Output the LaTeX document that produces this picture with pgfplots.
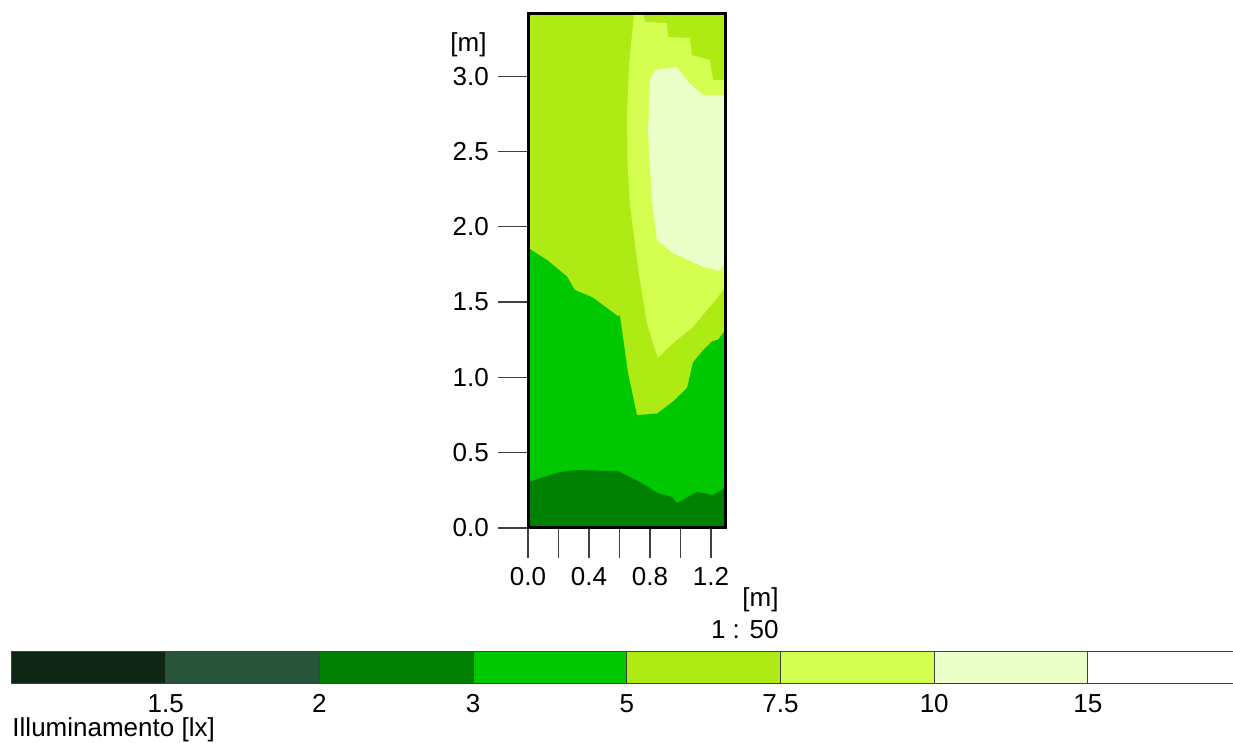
\documentclass[border=0pt]{standalone}
\usepackage{pgfplots}
\pgfplotsset{compat=1.18}
\usepackage{fontspec}
\setmainfont{Liberation Sans}
\definecolor{c0}{RGB}{15,38,23}
\definecolor{c1}{RGB}{40,85,58}
\definecolor{c2}{RGB}{0,128,0}
\definecolor{c3}{RGB}{0,200,0}
\definecolor{c4}{RGB}{174,235,20}
\definecolor{c5}{RGB}{212,255,80}
\definecolor{c6}{RGB}{235,255,200}
\newcommand{\lblfont}{\fontsize{10.4pt}{12pt}\selectfont}
\begin{document}
\lblfont
\begin{tikzpicture}
\useasboundingbox (0,0) rectangle (493.2pt,297.2pt);
\begin{axis}[
  at={(211.2pt,86pt)}, anchor=south west, scale only axis,
  width=78.8pt, height=205.6pt,
  xmin=0, xmax=1.292, ymin=0, ymax=3.413,
  axis line style={line width=1.2pt, black},
  axis on top,
  tick align=outside, major tick length=12pt,
  tick style={black!75, line width=0.5pt},
  xtick pos=bottom, ytick pos=left,
  xtick={0,0.2,0.4,0.6,0.8,1.0,1.2},
  xticklabels={0.0,,0.4,,0.8,,1.2},
  ytick={0,0.5,1.0,1.5,2.0,2.5,3.0},
  yticklabels={0.0,0.5,1.0,1.5,2.0,2.5,3.0},
  every tick label/.append style={font=\lblfont},
  clip=true,
]
% 5 - 7.5 background
\addplot[fill=c4, draw=none] coordinates {(0,0) (1.292,0) (1.292,3.413) (0,3.413)} -- cycle;
% 3 - 5
\addplot[fill=c3, draw=none] coordinates {
 (0,0) (1.292,0) (1.292,1.31) (1.246,1.25) (1.207,1.24) (1.148,1.18) (1.082,1.10)
 (1.043,0.93) (0.951,0.84) (0.846,0.76) (0.715,0.75) (0.656,1.03) (0.603,1.41)
 (0.584,1.41) (0.426,1.53) (0.308,1.58) (0.256,1.67) (0.125,1.78) (0,1.86)} -- cycle;
% 2 - 3
\addplot[fill=c2, draw=none] coordinates {
 (0,0) (1.292,0) (1.292,0.266) (1.213,0.219) (1.108,0.239) (0.977,0.166)
 (0.944,0.206) (0.852,0.232) (0.734,0.305) (0.59,0.378) (0.32,0.385) (0.21,0.372) (0,0.305)} -- cycle;
% 7.5 - 10
\addplot[fill=c5, draw=none] coordinates {
 (0.695,3.413) (0.754,3.413) (0.767,3.36) (0.911,3.353) (0.918,3.26) (1.062,3.254)
 (1.075,3.14) (1.193,3.108) (1.213,2.975) (1.292,2.975) (1.292,1.594) (1.239,1.527)
 (1.174,1.448) (1.082,1.335) (0.951,1.228) (0.852,1.129) (0.82,1.228) (0.78,1.361)
 (0.734,1.647) (0.715,1.78) (0.668,2.15) (0.652,2.45) (0.650,2.75) (0.662,3.061)} -- cycle;
% 10 - 15
\addplot[fill=c6, draw=none] coordinates {
 (0.833,3.041) (0.977,3.061) (1.062,2.95) (1.095,2.922) (1.148,2.875) (1.292,2.875)
 (1.292,1.766) (1.259,1.707) (1.148,1.733) (0.951,1.826) (0.846,1.912) (0.813,2.178)
 (0.787,2.623) (0.80,2.975)} -- cycle;
\end{axis}
\node[anchor=east, inner sep=0pt] at (194.8pt,279.2pt) {[m]};
\node[anchor=east, inner sep=0pt] at (311.6pt,57.2pt) {[m]};
\node[anchor=east, inner sep=0pt] at (311.6pt,45.2pt) {1 : 50};
% colour scale
\begin{axis}[
  at={(4.8pt,23.6pt)}, anchor=south west, scale only axis,
  width=488.4pt, height=12.8pt,
  xmin=0, xmax=7.944, ymin=0, ymax=1,
  axis line style={draw=none},
  clip=false,
  major tick length=0pt,
  xtick={1,2,3,4,5,6,7},
  xticklabels={1.5,2,3,5,7.5,10,15},
  ytick=\empty,
  xtick pos=bottom,
  every tick label/.append style={font=\lblfont},
  xticklabel style={yshift=-0.5pt},
]
\addplot[fill=c0, draw=black!75, line width=0.4pt] coordinates {(0,0) (1,0) (1,1) (0,1)} -- cycle;
\addplot[fill=c1, draw=black!75, line width=0.4pt] coordinates {(1,0) (2,0) (2,1) (1,1)} -- cycle;
\addplot[fill=c2, draw=black!75, line width=0.4pt] coordinates {(2,0) (3,0) (3,1) (2,1)} -- cycle;
\addplot[fill=c3, draw=black!75, line width=0.4pt] coordinates {(3,0) (4,0) (4,1) (3,1)} -- cycle;
\addplot[fill=c4, draw=black!75, line width=0.4pt] coordinates {(4,0) (5,0) (5,1) (4,1)} -- cycle;
\addplot[fill=c5, draw=black!75, line width=0.4pt] coordinates {(5,0) (6,0) (6,1) (5,1)} -- cycle;
\addplot[fill=c6, draw=black!75, line width=0.4pt] coordinates {(6,0) (7,0) (7,1) (6,1)} -- cycle;
\addplot[fill=white, draw=black!75, line width=0.4pt] coordinates {(7.944,1) (7,1) (7,0) (7.944,0)};
\end{axis}
\node[anchor=base west, inner sep=0pt] at (4.8pt,2.6pt) {Illuminamento [lx]};
\end{tikzpicture}
\end{document}
